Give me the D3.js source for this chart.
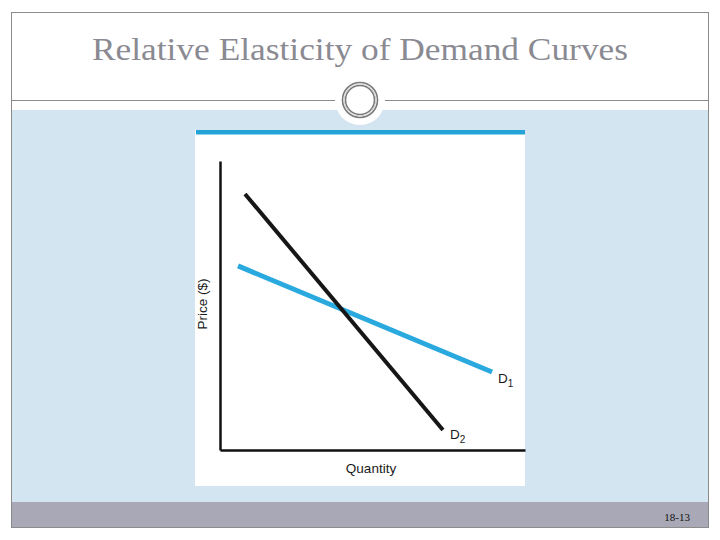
<!DOCTYPE html>
<html><head><meta charset="utf-8">
<script src="https://cdn.jsdelivr.net/npm/d3@7/dist/d3.min.js"></script>
<style>html,body{margin:0;padding:0;background:#fff}</style>
</head><body>
<script>
const title = "Relative Elasticity of Demand Curves";
const xLabel = "Quantity";
const yLabel = "Price ($)";
const pageLabel = "18-13";
const seriesNames = ["D1", "D2"];
const d1X = [0.59, 8.92];
const d1Y = [6.37, 2.70];
const d2X = [0.82, 7.31];
const d2Y = [8.86, 0.69];

const W = 720, H = 540;
const svg = d3.select("body").append("svg").attr("width", W).attr("height", H);

// slide frame
svg.append("rect").attr("x", 11.5).attr("y", 12.5).attr("width", 697).attr("height", 515)
  .attr("fill", "#fff").attr("stroke", "#8c8c8c").attr("stroke-width", 1);
svg.append("rect").attr("x", 12).attr("y", 110).attr("width", 696).attr("height", 392).attr("fill", "#d3e5f1");
svg.append("rect").attr("x", 12).attr("y", 502).attr("width", 696).attr("height", 25).attr("fill", "#a8a8b6");
svg.append("line").attr("x1", 12).attr("x2", 708).attr("y1", 100.5).attr("y2", 100.5).attr("stroke", "#8c8c8c");
// ornament
svg.append("circle").attr("cx", 360).attr("cy", 100).attr("r", 25).attr("fill", "#fff");
svg.append("circle").attr("cx", 360).attr("cy", 100).attr("r", 17.5).attr("fill", "none").attr("stroke", "#7a7a7a").attr("stroke-width", 1.6);
svg.append("circle").attr("cx", 360).attr("cy", 100).attr("r", 14.5).attr("fill", "none").attr("stroke", "#7a7a7a").attr("stroke-width", 1.6);
svg.append("circle").attr("cx", 360).attr("cy", 100).attr("r", 16).attr("fill", "none").attr("stroke", "#d0d0d0").attr("stroke-width", 1);

svg.append("text").attr("x", 360).attr("y", 60).attr("text-anchor", "middle")
  .attr("font-family", "Liberation Serif, DejaVu Serif, serif").attr("font-size", 32)
  .attr("fill", "#8a8a92").attr("textLength", 536).attr("lengthAdjust", "spacingAndGlyphs").text(title);
svg.append("text").attr("x", 690).attr("y", 521).attr("text-anchor", "end")
  .attr("font-family", "Liberation Serif, serif").attr("font-size", 11).attr("fill", "#111").text(pageLabel);

// image panel
svg.append("rect").attr("x", 195).attr("y", 130).attr("width", 330).attr("height", 356).attr("fill", "#fff");
svg.append("rect").attr("x", 196).attr("y", 130).attr("width", 329).attr("height", 4.5).attr("fill", "#23a3d8");

const x = d3.scaleLinear().domain([0, 10]).range([220, 525]);
const y = d3.scaleLinear().domain([0, 10]).range([450, 161]);

const g = svg.append("g");
g.append("g").attr("transform", `translate(0,${y(0)})`)
  .call(d3.axisBottom(x).ticks(0).tickSize(0).tickFormat(""))
  .call(s => s.select(".domain").attr("stroke", "#111").attr("stroke-width", 2.5));
g.append("g").attr("transform", `translate(${x(0)},0)`)
  .call(d3.axisLeft(y).ticks(0).tickSize(0).tickFormat(""))
  .call(s => s.select(".domain").attr("stroke", "#111").attr("stroke-width", 2.5));

const line = d3.line().x(d => x(d[0])).y(d => y(d[1]));
const d1 = d1X.map((v, i) => [v, d1Y[i]]);
const d2 = d2X.map((v, i) => [v, d2Y[i]]);
g.append("path").datum(d1).attr("d", line).attr("fill", "none").attr("stroke", "#29a9de").attr("stroke-width", 5);
g.append("path").datum(d2).attr("d", line).attr("fill", "none").attr("stroke", "#161616").attr("stroke-width", 4);

function label(px, py, name) {
  const t = g.append("text").attr("x", px).attr("y", py)
    .attr("font-family", "Liberation Sans, Arial, sans-serif").attr("font-size", 13.5).attr("fill", "#1a1a1a");
  t.append("tspan").text(name[0]);
  t.append("tspan").attr("font-size", 10).attr("dy", 4).text(name.slice(1));
}
label(x(d1X[1]) + 6, y(d1Y[1]) + 11, seriesNames[0]);
label(x(d2X[1]) + 7, y(d2Y[1]) + 9, seriesNames[1]);

g.append("text").attr("x", 371).attr("y", 473).attr("text-anchor", "middle")
  .attr("font-family", "Liberation Sans, Arial, sans-serif").attr("font-size", 13.5).attr("fill", "#1a1a1a").text(xLabel);
g.append("text").attr("transform", "translate(207,304) rotate(-90)").attr("text-anchor", "middle")
  .attr("font-family", "Liberation Sans, Arial, sans-serif").attr("font-size", 13.5).attr("fill", "#1a1a1a").text(yLabel);
</script>
</body></html>
